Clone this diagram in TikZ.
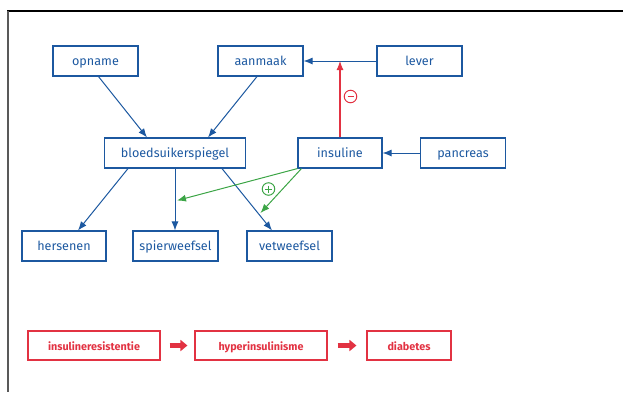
\documentclass[tikz,border=0pt]{standalone}
\usepackage{fontspec}
\setmainfont{Fira Sans}
\usetikzlibrary{arrows.meta}
\definecolor{nblue}{RGB}{28,88,160}
\definecolor{ngreen}{RGB}{60,165,70}
\definecolor{nred}{RGB}{226,50,66}
\tikzset{
  box/.style={draw=nblue, text=nblue, line width=1.1pt, minimum width=85pt, minimum height=30pt, inner sep=0pt, text height=11pt, text depth=2pt, font=\fontsize{12.6}{14}\selectfont},
  rbox/.style={draw=nred, text=nred, line width=1.1pt, minimum width=132pt, minimum height=29pt, inner sep=0pt, text height=11pt, text depth=2pt, font=\fontsize{10.8}{13}\selectfont\bfseries},
  barrow/.style={draw=nblue, line width=1pt, -{Latex[length=9pt,width=7pt]}},
  garrow/.style={draw=ngreen, line width=1pt, -{Latex[length=9pt,width=7pt]}},
  rarrow/.style={draw=nred, line width=1.1pt, -{Latex[length=9pt,width=7pt]}},
  fatarrow/.style={draw=nred, line width=4.5pt, -{Triangle[length=7pt,width=11pt]}},
  sign/.style={circle, draw, line width=1pt, minimum size=12.5pt, inner sep=0pt},
}
\begin{document}
\begin{tikzpicture}[x=1pt,y=-1pt]
\useasboundingbox (0,0) rectangle (623,392);
\draw[line width=1.5pt, black] (7,11) -- (623,11);
\draw[line width=2pt, black!65] (7.5,11) -- (7.5,392);

\node[box] (opname) at (95.5,61) {opname};
\node[box] (aanmaak) at (260.5,61) {aanmaak};
\node[box] (lever) at (419.5,61) {lever};
\node[box, minimum width=141pt] (bsp) at (175,153) {bloedsuikerspiegel};
\node[box, minimum width=84pt] (insuline) at (340,153) {insuline};
\node[box] (pancreas) at (463,153) {pancreas};
\node[box, minimum width=84pt] (hersenen) at (64,246) {hersenen};
\node[box] (spier) at (175.5,246) {spierweefsel};
\node[box] (vet) at (289.5,246) {vetweefsel};

\node[rbox] (ir) at (94,345.5) {insulineresistentie};
\node[rbox] (hyper) at (261,345.5) {hyperinsulinisme};
\node[rbox, minimum width=84pt] (diab) at (409,345.5) {diabetes};

\draw[barrow] ([xshift=3pt]opname.south) -- ([xshift=-28pt]bsp.north);
\draw[barrow] ([xshift=-3.5pt]aanmaak.south) -- ([xshift=33pt]bsp.north);
\draw[barrow] (lever.west) -- (aanmaak.east);
\draw[barrow] (pancreas.west) -- (insuline.east);
\draw[barrow] ([xshift=-47pt]bsp.south) -- ([xshift=14pt]hersenen.north);
\draw[barrow] (bsp.south) -- (spier.north -| bsp.south);
\draw[barrow] ([xshift=47pt]bsp.south) -- ([xshift=-17.5pt]vet.north);

\coordinate (lv) at (340,61);
\draw[rarrow] (insuline.north) -- (lv);
\node[sign, draw=nred] (minus) at (350.5,96.5) {};
\draw[nred, line width=1.7pt] (minus.center) ++(-3,0) -- ++(6,0);

\coordinate (gs) at (177,200.5);
\coordinate (gv) at (260.5,213);
\draw[garrow] (insuline.south west) -- (gs);
\draw[garrow] ([xshift=4pt]insuline.south west) -- (gv);
\node[sign, draw=ngreen] (plus) at (268.5,189) {};
\draw[ngreen, line width=1pt] (plus.center) ++(-3.5,0) -- ++(7,0);
\draw[ngreen, line width=1pt] (plus.center) ++(0,-3.5) -- ++(0,7);

\draw[fatarrow] ([xshift=9pt]ir.east) -- ([xshift=-7pt]hyper.west);
\draw[fatarrow] ([xshift=10pt]hyper.east) -- ([xshift=-10pt]diab.west);
\end{tikzpicture}
\end{document}
